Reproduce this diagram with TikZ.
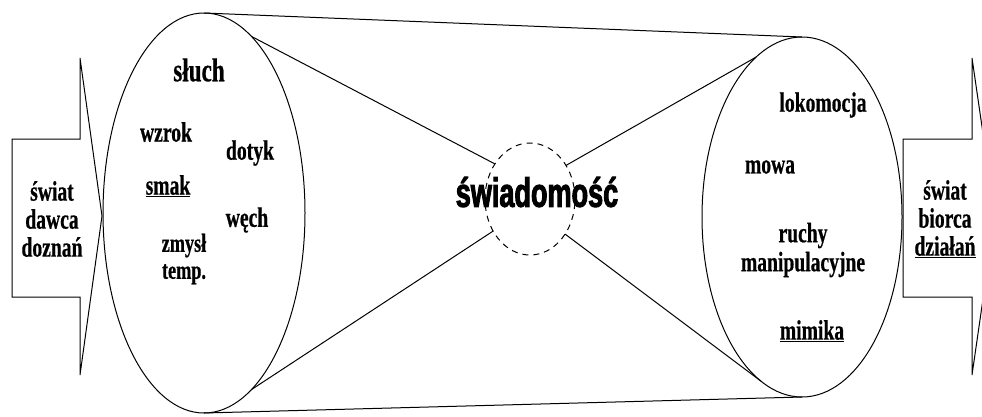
\documentclass[tikz,border=0pt]{standalone}
\usepackage{fontspec}
\setmainfont{Liberation Serif}
\newfontfamily\zmserif[FakeStretch=0.7,FakeBold=0.6]{Liberation Serif Bold}
\newfontfamily\zmsans[FakeStretch=0.66,FakeBold=2.2]{Liberation Sans Bold}
\usetikzlibrary{shapes.geometric}
\tikzset{
  zm/frame/.style={draw=black, line width=1pt, line join=miter},
  zm/oval/.style={
    ellipse,
    draw=black,
    line width=1pt,
    inner sep=0pt,
    outer sep=0pt
  },
  zm/core/.style={
    ellipse,
    draw=black,
    line width=1pt,
    dash pattern=on 6pt off 5pt,
    inner sep=0pt,
    outer sep=0pt,
    minimum width=90pt,
    minimum height=112pt
  },
  zm/word/.style={font=\zmserif\fontsize{28}{28}\selectfont, inner sep=0pt, align=center},
  zm/title/.style={font=\zmsans\fontsize{41}{41}\selectfont, inner sep=0pt},
  zm/link/.style={line width=1pt}
}

\begin{document}
\begin{tikzpicture}[x=1pt,y=-1pt]
  \useasboundingbox (0,0) rectangle (982,416);
  \clip (0,0) rectangle (982,416);
  % world arrows
  \draw[zm/frame] (12,139) -- (80,139) -- (80,58) -- (102,216) -- (80,375) -- (80,297) -- (12,297) -- cycle;
  \draw[zm/frame] (903,139) -- (972,139) -- (972,58) -- (995,216) -- (972,375) -- (972,297) -- (903,297) -- cycle;
  % ovals
  \node[zm/oval, minimum width=202pt, minimum height=400pt] (senses) at (204,213) {};
  \node[zm/oval, minimum width=200pt, minimum height=360pt] (acts) at (802,217) {};
  \node[zm/core] (core) at (530,199) {};
  \draw[zm/link] (senses.north) -- (acts.north);
  \draw[zm/link] (senses.south) -- (acts.south);
  \draw[zm/link] (senses.75) -- (core.135);
  \draw[zm/link] (senses.-75) -- (core.-139);
  \draw[zm/link] (core.43) -- (acts.106);
  \draw[zm/link] (core.-45) -- (acts.-104);
  % texts
  \node[zm/title] (swiad) at (537,192) {świadomość};
  \node[zm/word] (donor) at (52,219) {świat\\dawca\\doznań};
  \node[zm/word] (taker) at (945,219) {świat\\biorca\\\underline{działań}};
  \node[zm/word, font=\zmserif\fontsize{33}{33}\selectfont] (sluch) at (199,70) {słuch};
  \node[zm/word] (wzrok) at (166,132) {wzrok};
  \node[zm/word] (dotyk) at (250,153) {dotyk};
  \node[zm/word] (smak) at (168,186) {\underline{smak}};
  \node[zm/word] (wech) at (247,220) {węch};
  \node[zm/word, font=\zmserif\fontsize{26}{27}\selectfont] (czas) at (184,259) {zmysł\\temp.};
  \node[zm/word] (lokom) at (823,105) {lokomocja};
  \node[zm/word] (mowa) at (770,167) {mowa};
  \node[zm/word, font=\zmserif\fontsize{28}{29}\selectfont] (ruchy) at (803,250) {ruchy\\manipulacyjne};
  \node[zm/word] (mimika) at (812,331) {\underline{mimika}};
\end{tikzpicture}
\end{document}
